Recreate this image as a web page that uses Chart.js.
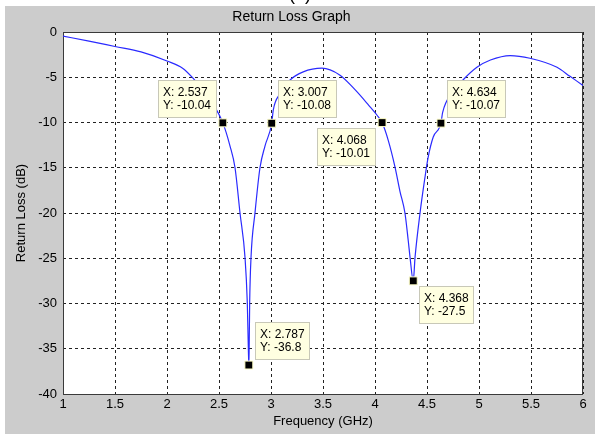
<!DOCTYPE html>
<html>
<head>
<meta charset="utf-8">
<title>Return Loss Graph</title>
<script src="https://cdn.jsdelivr.net/npm/chart.js@4.4.1/dist/chart.umd.min.js"></script>
<style>
  html, body { margin: 0; padding: 0; background: #fff; }
  canvas { display: block; }
</style>
</head>
<body>
<canvas id="rlChart" width="595" height="434"></canvas>
<script>
// S11 sweep, frequency in GHz and return loss in dB
const freqGHz = [
  1.00, 1.25, 1.50, 1.75, 2.00, 2.15, 2.25, 2.35, 2.45, 2.537,
  2.606, 2.654, 2.702, 2.750, 2.772, 2.782, 2.787, 2.790, 2.795, 2.808,
  2.846, 2.894, 2.942, 3.007, 3.022, 3.087, 3.183, 3.31, 3.49, 3.66,
  3.81, 3.94, 4.02, 4.068, 4.128, 4.192, 4.240, 4.288, 4.320, 4.337,
  4.368, 4.385, 4.433, 4.480, 4.510, 4.560, 4.634, 4.65, 4.75, 4.846,
  4.98, 5.11, 5.30, 5.49, 5.75, 5.875, 6.00
];
const returnLossDb = [
  -0.45, -1.0, -1.6, -2.2, -3.2, -4.0, -5.1, -6.5, -8.1, -10.04,
  -12.6, -15.0, -20.0, -24.9, -29.9, -34.9, -36.8, -35.0, -29.9, -24.9,
  -20.0, -15.0, -12.6, -10.08, -8.6, -6.8, -5.3, -4.4, -4.0, -4.75,
  -6.4, -8.1, -9.2, -10.01, -12.0, -14.9, -17.6, -20.0, -23.1, -24.9,
  -27.5, -24.9, -20.0, -16.1, -13.9, -11.6, -10.07, -8.9, -6.6, -5.3,
  -3.9, -3.1, -2.6, -2.9, -3.9, -4.9, -5.9
];

// data cursor readouts
const tipFreq = [2.537, 2.787, 3.007, 4.068, 4.368, 4.634];
const tipLoss = [-10.04, -36.8, -10.08, -10.01, -27.5, -10.07];
const tipSide = ['nw', 'ne', 'ne', 'sw', 'se', 'ne'];

const xMin = 1, xMax = 6, xStep = 0.5;
const yMin = -40, yMax = 0, yStep = 5;

const FONT = '"Liberation Sans", Arial, sans-serif';

// grey figure, white axes box and frame
const figureBackground = {
  id: 'figureBackground',
  beforeDraw(chart) {
    const { ctx, chartArea: a } = chart;
    ctx.save();
    ctx.fillStyle = '#fff';
    ctx.fillRect(0, 0, chart.width, chart.height);
    ctx.fillStyle = '#000';
    ctx.font = '18px ' + FONT;
    ctx.textAlign = 'center';
    ctx.textBaseline = 'alphabetic';
    ctx.fillText('(a)', 300, 0);
    ctx.fillStyle = '#cccccc';
    ctx.fillRect(5, 6, chart.width - 5, chart.height - 6);
    ctx.fillStyle = '#fff';
    ctx.fillRect(a.left, a.top, a.right - a.left, a.bottom - a.top);
    ctx.restore();
  },
  beforeDatasetsDraw(chart) {
    const { ctx, chartArea: a } = chart;
    ctx.save();
    ctx.strokeStyle = '#3a3a3a';
    ctx.lineWidth = 1;
    ctx.strokeRect(a.left + 0.5, a.top + 0.5, a.right - a.left - 1, a.bottom - a.top);
    ctx.restore();
  }
};

// yellow data tip boxes next to the markers
const dataTips = {
  id: 'dataTips',
  afterDatasetsDraw(chart) {
    const { ctx, scales: { x, y } } = chart;
    ctx.save();
    ctx.font = '12px ' + FONT;
    ctx.textAlign = 'left';
    ctx.textBaseline = 'middle';
    tipFreq.forEach((f, i) => {
      const px = x.getPixelForValue(f);
      const py = y.getPixelForValue(tipLoss[i]);
      const lines = ['X: ' + f, 'Y: ' + tipLoss[i]];
      const w = Math.ceil(Math.max(...lines.map(t => ctx.measureText(t).width))) + 10;
      const h = 38;
      const side = tipSide[i];
      const bx = Math.round(side[1] === 'e' ? px + 6 : px - 6 - w);
      const by = Math.round(side[0] === 'n' ? py - 5 - h : py + 5);
      ctx.fillStyle = '#ffffe1';
      ctx.fillRect(bx, by, w, h);
      ctx.strokeStyle = '#c8c8b8';
      ctx.lineWidth = 1;
      ctx.strokeRect(bx + 0.5, by + 0.5, w - 1, h - 1);
      ctx.fillStyle = '#000';
      ctx.fillText(lines[0], bx + 5, by + 12.5);
      ctx.fillText(lines[1], bx + 5, by + 26);
    });
    ctx.restore();
  }
};

const curve = freqGHz.map((f, i) => ({ x: f, y: returnLossDb[i] }));
const tips = tipFreq.map((f, i) => ({ x: f, y: tipLoss[i] }));

new Chart(document.getElementById('rlChart'), {
  type: 'line',
  data: {
    datasets: [
      {
        data: curve,
        order: 1,
        borderColor: '#2a2aff',
        borderWidth: 1.2,
        pointRadius: 0,
        cubicInterpolationMode: 'monotone',
        fill: false
      },
      {
        data: tips,
        order: 0,
        showLine: false,
        pointStyle: 'rect',
        pointRadius: 5.6,
        pointBackgroundColor: '#000',
        pointBorderColor: '#ffffc8',
        pointBorderWidth: 1
      }
    ]
  },
  options: {
    responsive: false,
    animation: false,
    events: [],
    layout: { padding: { left: 0, top: 0, right: 12, bottom: 0 } },
    plugins: {
      legend: { display: false },
      tooltip: { enabled: false },
      title: {
        display: true,
        text: 'Return Loss Graph',
        color: '#000',
        font: { family: FONT, size: 14, weight: 'normal' },
        padding: { top: 9, bottom: 6.2 }
      }
    },
    scales: {
      x: {
        type: 'linear',
        min: xMin,
        max: xMax,
        afterFit: s => { s.height = 40; },
        ticks: {
          stepSize: xStep,
          color: '#000',
          padding: 3,
          maxRotation: 0,
          font: { family: FONT, size: 13 },
          callback: v => String(v)
        },
        grid: { color: '#222', lineWidth: 1, drawTicks: false },
        border: { display: false, dash: [3, 3] },
        title: {
          display: true,
          text: 'Frequency (GHz)',
          color: '#000',
          font: { family: FONT, size: 13 },
          padding: { top: 0, bottom: 5.2 }
        }
      },
      y: {
        min: yMin,
        max: yMax,
        afterFit: s => { s.width = 63; },
        ticks: {
          stepSize: yStep,
          color: '#000',
          padding: 6,
          font: { family: FONT, size: 13 },
          callback: v => String(v)
        },
        grid: { color: '#222', lineWidth: 1, drawTicks: false },
        border: { display: false, dash: [3, 3] },
        title: {
          display: true,
          text: 'Return Loss (dB)',
          color: '#000',
          font: { family: FONT, size: 13 },
          padding: { top: 14, bottom: 0 }
        }
      }
    }
  },
  plugins: [figureBackground, dataTips]
});
</script>
</body>
</html>
